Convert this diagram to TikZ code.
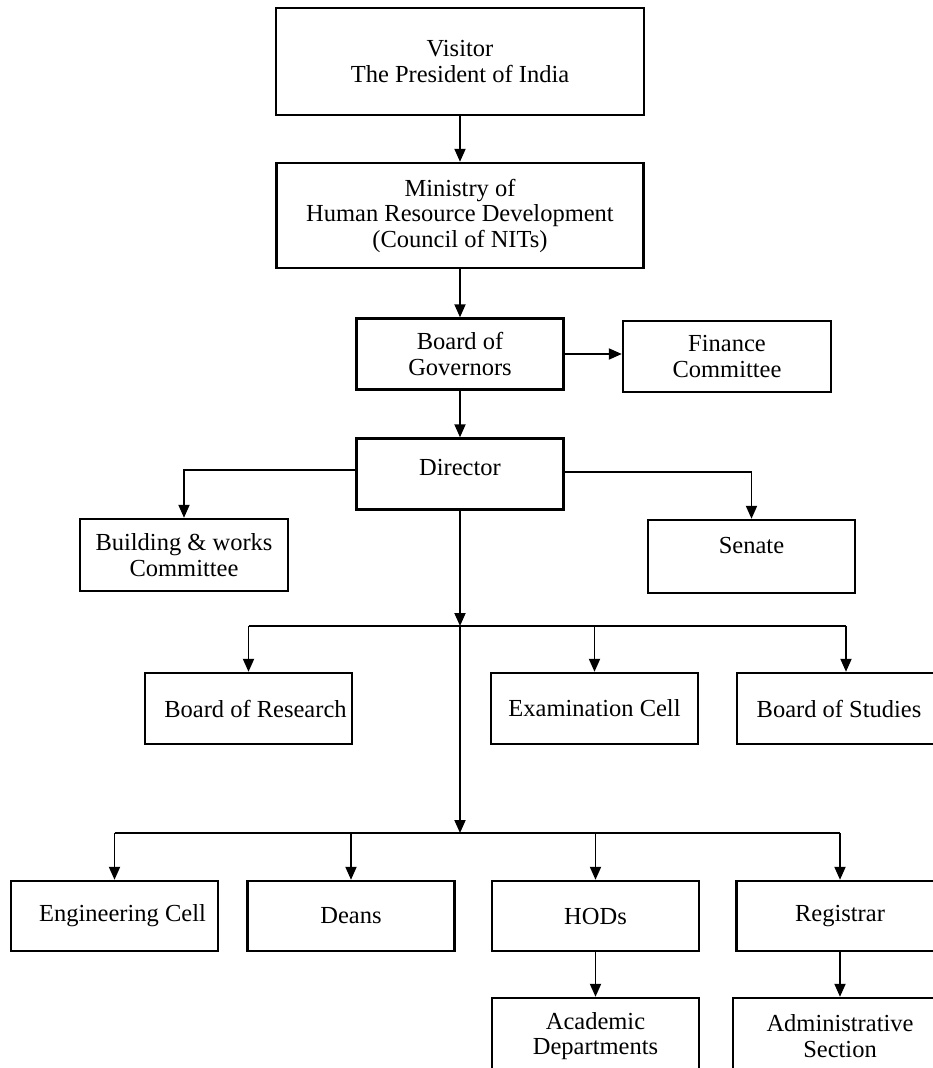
\documentclass[tikz,border=0pt]{standalone}
\usepackage{fontspec}
\setmainfont{Liberation Serif}
\usetikzlibrary{arrows.meta, positioning}

\begin{document}
\begin{tikzpicture}[x=1pt, y=-1pt,
    font=\fontsize{24.5}{25.5}\selectfont,
    box/.style={draw, line width=2.4pt, minimum width=207pt, minimum height=71pt, align=center, inner sep=2pt},
    arr/.style={-{Triangle[length=13pt,width=11pt]}, line width=1.9pt},
    line/.style={line width=1.9pt}]
    \useasboundingbox[fill=white] (0,0) rectangle (933,1068);
    % top of the chart
    \node[box, minimum width=368pt, minimum height=107pt] (vis) at (460,61.5) {Visitor\\The President of India};
    \node[box, minimum width=367pt, minimum height=105pt] (mhrd) at (460,215.5) {Ministry of\\Human Resource Development\\(Council of NITs)};
    \node[box] (bog) at (460,354) {Board of\\Governors};
    \node[box, minimum width=208pt] (fin) at (727,356.5) {Finance\\Committee};
    \node[box, text depth=13pt] (dir) at (460,474) {Director};
    \node[box, minimum width=208pt, minimum height=72pt] (bwc) at (184,555) {Building \& works\\Committee};
    \node[box, minimum height=73pt, text height=17pt, text depth=23pt] (sen) at (751.5,556.5) {Senate};
    \draw[arr] (vis) -- (mhrd);
    \draw[arr] (mhrd) -- (bog);
    \draw[arr] (bog.east) -- (bog.east -| fin.west);
    \draw[arr] (bog) -- (dir);
    \draw[arr] ([yshift=4pt]dir.west) -| (bwc.north);
    \draw[arr] ([yshift=2pt]dir.east) -| (sen.north);
    % middle row
    \coordinate (busA) at (460,626);
    \node[box] (bor) at (248.5,708.5) {\hspace*{14pt}Board of Research};
    \node[box] (exam) at (594.5,708.5) {Examination Cell};
    \node[box, minimum width=218pt] (bos) at (846,708.5) {Board of Studies\hspace*{14pt}};
    \draw[arr] (dir.south) -- (busA);
    \draw[line] (bor.north |- busA) -- (bos.north |- busA);
    \foreach \n in {bor, exam, bos}
        \draw[arr] (\n.north |- busA) -- (\n.north);
    % bottom row
    \coordinate (busB) at (460,833);
    \node[box, minimum height=70pt] (eng) at (114.5,916) {\hspace*{16pt}Engineering Cell};
    \node[box, minimum height=70pt] (dean) at (351,916) {Deans};
    \node[box, minimum height=70pt] (hod) at (595.5,916) {HODs};
    \node[box, minimum height=70pt] (reg) at (840,916) {Registrar};
    \node[box, minimum height=76pt] (acad) at (595.5,1036) {Academic\\Departments};
    \node[box, minimum width=214pt, minimum height=76pt] (adm) at (840,1036) {Administrative\\Section};
    \draw[arr] (busA) -- (busB);
    \draw[line] (eng.north |- busB) -- (reg.north |- busB);
    \foreach \n in {eng, dean, hod, reg}
        \draw[arr] (\n.north |- busB) -- (\n.north);
    \draw[arr] (hod) -- (acad);
    \draw[arr] (reg) -- (adm);
\end{tikzpicture}
\end{document}
